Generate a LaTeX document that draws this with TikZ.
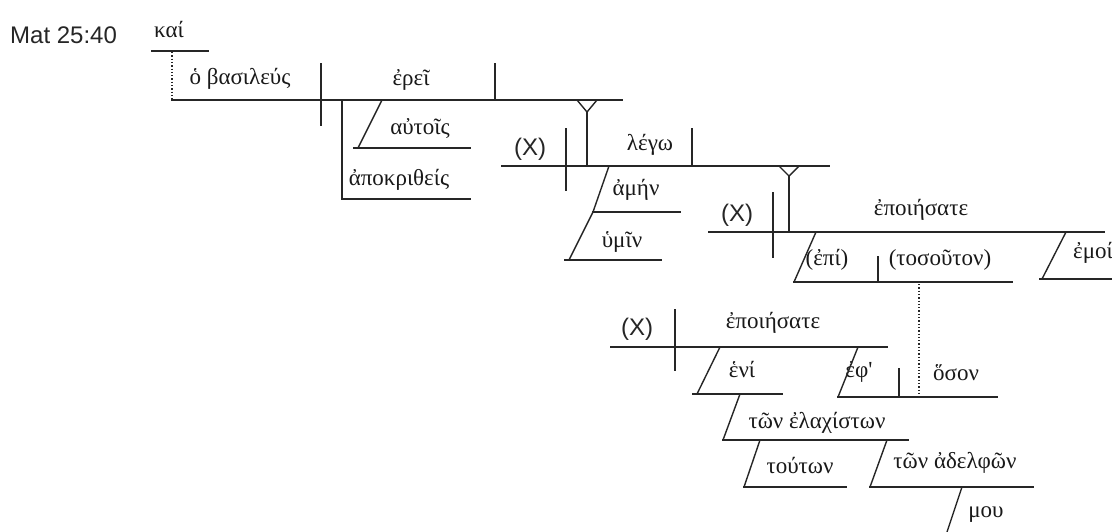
\documentclass[tikz,border=0pt]{standalone}
\usepackage{fontspec}
\newfontfamily\gkfont{Liberation Serif}
\newfontfamily\lsans{Liberation Sans}
\tikzset{
  ln/.style={line width=1.4pt, color=black!85, line cap=rect},
  dotln/.style={line width=1.3pt, color=black!85, dotted},
  gk/.style={font=\gkfont\fontsize{23}{27}\selectfont, anchor=base, inner sep=0pt, text=black!90},
  lab/.style={font=\lsans\fontsize{24}{28}\selectfont, anchor=base, inner sep=0pt, text=black!85}
}
\begin{document}
\begin{tikzpicture}[x=1pt,y=-1pt]
\useasboundingbox[fill=white] (0,0) rectangle (1112,531);
% reference label
\node[lab, anchor=base west] (ref) at (10,43) {Mat 25:40};
% texts
\node[gk] (kai) at (169,37) {καί};
\node[gk] (bas) at (240,84) {ὁ βασιλεύς};
\node[gk] (erei) at (411,85) {ἐρεῖ};
\node[gk] (autois) at (420,134) {αὐτοῖς};
\node[gk] (apokr) at (399,185) {ἀποκριθείς};
\node[lab] (x1) at (530,155) {(X)};
\node[gk] (legw) at (650,150) {λέγω};
\node[gk] (amhn) at (636,195) {ἀμήν};
\node[gk] (ymin) at (622,247) {ὑμῖν};
\node[lab] (x2) at (737,221) {(X)};
\node[gk] (epoi1) at (921,215) {ἐποιήσατε};
\node[gk] (epi) at (827,265) {(ἐπί)};
\node[gk] (toso) at (940,265) {(τοσοῦτον)};
\node[gk, anchor=base west] (emoi) at (1073,258) {ἐμοί};
\node[lab] (x3) at (637,335) {(X)};
\node[gk] (epoi2) at (773,328) {ἐποιήσατε};
\node[gk] (eni) at (742,377) {ἑνί};
\node[gk] (eph) at (859,377) {ἐφ'};
\node[gk] (oson) at (956,380) {ὅσον};
\node[gk] (elax) at (817,428) {τῶν ἐλαχίστων};
\node[gk] (tout) at (800,473) {τούτων};
\node[gk] (adel) at (955,468) {τῶν ἀδελφῶν};
\node[gk] (mou) at (986,517) {μου};
% lines
\draw[ln] (152,51) -- (208,51);
\draw[dotln] (172,52) -- (172,100);
\draw[ln] (172,100) -- (622,100);
\draw[ln] (321,64) -- (321,125);
\draw[ln] (495,64) -- (495,100);
\draw[ln] (342,100) -- (342,199) -- (470,199);
\draw[ln] (382,100) -- (358,148);
\draw[ln] (354,148) -- (470,148);
% stilt 1
\draw[ln, line cap=butt] (577,100) -- (587,112) -- (597,100);
\draw[ln] (587,112) -- (587,166);
\draw[ln] (502,166) -- (829,166);
\draw[ln] (566,129) -- (566,190);
\draw[ln] (692,129) -- (692,166);
\draw[ln] (609,166) -- (593,212);
\draw[ln] (593,212) -- (680,212);
\draw[ln] (593,212) -- (569,260);
\draw[ln] (565,260) -- (661,260);
% stilt 2
\draw[ln, line cap=butt] (779,166) -- (789,176) -- (799,166);
\draw[ln] (789,176) -- (789,232);
\draw[ln] (709,232) -- (1104,232);
\draw[ln] (773,193) -- (773,257);
\draw[ln] (816,232) -- (794,282);
\draw[ln] (794,282) -- (1012,282);
\draw[ln] (878,257) -- (878,282);
\draw[dotln] (919,284) -- (919,393);
\draw[ln] (1066,232) -- (1042,279);
\draw[ln] (1040,279) -- (1115,279);
% relative clause
\draw[ln] (611,347) -- (887,347);
\draw[ln] (675,310) -- (675,370);
\draw[ln] (720,347) -- (697,394);
\draw[ln] (693,394) -- (782,394);
\draw[ln] (740,394) -- (723,440);
\draw[ln] (723,440) -- (908,440);
\draw[ln] (760,440) -- (744,487);
\draw[ln] (744,487) -- (846,487);
\draw[ln] (887,440) -- (870,487);
\draw[ln] (870,487) -- (1033,487);
\draw[ln] (962,487) -- (946,535);
\draw[ln] (858,347) -- (838,397);
\draw[ln] (838,397) -- (997,397);
\draw[ln] (899,369) -- (899,397);
\end{tikzpicture}
\end{document}
